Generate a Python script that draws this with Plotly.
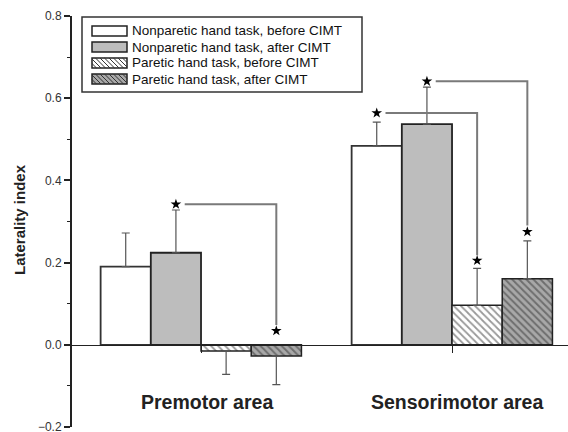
import plotly.graph_objects as go

# ---- data ----
categories = ["Premotor area", "Sensorimotor area"]
cat_pos = [0, 1]
series_names = [
    "Nonparetic hand task, before CIMT",
    "Nonparetic hand task, after CIMT",
    "Paretic hand task, before CIMT",
    "Paretic hand task, after CIMT",
]
nonparetic_before = [0.19, 0.484]
nonparetic_before_err = [0.082, 0.058]
nonparetic_after = [0.224, 0.537]
nonparetic_after_err = [0.104, 0.09]
paretic_before = [-0.015, 0.096]
paretic_before_err = [0.057, 0.09]
paretic_after = [-0.027, 0.161]
paretic_after_err = [0.07, 0.092]

y_ticks = [-0.2, 0.0, 0.2, 0.4, 0.6, 0.8]

# significance brackets: (category, from-bar, to-bar, star y at start, line end y, star y at end)
brackets = [
    (0, 1, 3, 0.342, 0.048, 0.034),
    (1, 0, 2, 0.564, 0.218, 0.205),
    (1, 1, 3, 0.641, 0.29, 0.275),
]

values = [nonparetic_before, nonparetic_after, paretic_before, paretic_after]
errors = [nonparetic_before_err, nonparetic_after_err, paretic_before_err, paretic_after_err]

FONT = "Liberation Sans, Arial, sans-serif"
W, H = 568, 432
ML, MR, MT, MB = 72, 0, 16, 5
PW, PH = W - ML - MR, H - MT - MB

fills = [
    dict(color="white", line=dict(color="#333", width=1.8)),
    dict(color="#bdbdbd", line=dict(color="#222", width=1.8)),
    dict(color="white", line=dict(color="#222", width=1.5),
         pattern=dict(shape="\\", fgcolor="#333", bgcolor="white", size=5, solidity=0.35)),
    dict(color="#a0a0a0", line=dict(color="#222", width=1.5),
         pattern=dict(shape="\\", fgcolor="#333", bgcolor="#a8a8a8", size=5, solidity=0.4)),
]
swatch = [("white", None), ("#bdbdbd", None), ("white", "#333"), ("#a8a8a8", "#333")]

fig = go.Figure()
for name, vals, errs, mk in zip(series_names, values, errors, fills):
    up = [e if v >= 0 else 0 for v, e in zip(vals, errs)]
    down = [e if v < 0 else 0 for v, e in zip(vals, errs)]
    fig.add_trace(go.Bar(
        x=cat_pos, y=vals, name=name, marker=mk, showlegend=False,
        error_y=dict(type="data", symmetric=False, array=up, arrayminus=down,
                     color="#555", thickness=1.2, width=4),
    ))

offsets = [-0.3, -0.1, 0.1, 0.3]
for cat, i0, i1, y0, yend, ys in brackets:
    xa = cat_pos[cat] + offsets[i0]
    xb = cat_pos[cat] + offsets[i1]
    fig.add_trace(go.Scatter(
        x=[xa + 0.035, xb, xb], y=[y0, y0, yend], mode="lines",
        line=dict(color="#7a7a7a", width=2), showlegend=False, hoverinfo="skip"))
    fig.add_trace(go.Scatter(
        x=[xa, xb], y=[y0, ys], mode="markers",
        marker=dict(symbol="star", size=8, color="black"),
        showlegend=False, hoverinfo="skip"))

for c, p, dx in zip(categories, cat_pos, [0.024, 0.018]):
    fig.add_annotation(x=p + dx, y=-0.14, text="<b>" + c + "</b>", showarrow=False,
                       font=dict(family=FONT, size=19.5, color="#222"), xanchor="center", yanchor="middle")

# ---- manual legend (pixel layout -> paper coords) ----
def px(x):
    return (x - ML) / PW

def py(y):
    return (H - MB - y) / PH

fig.add_shape(type="rect", xref="paper", yref="paper",
              x0=px(82), x1=px(362), y0=py(17), y1=py(92),
              line=dict(color="#333", width=1.5), fillcolor="white", layer="above")
sx0, sx1, sh = 92, 127, 10
for k, (name, (bg, hatch)) in enumerate(zip(series_names, swatch)):
    yc = 31 + 16 * k
    top, bot = yc - sh / 2, yc + sh / 2
    fig.add_shape(type="rect", xref="paper", yref="paper",
                  x0=px(sx0), x1=px(sx1), y0=py(top), y1=py(bot),
                  line=dict(color="#222", width=1.5), fillcolor=bg, layer="above")
    if hatch:
        step = 4.5
        segs = []
        c = -sh
        while c < (sx1 - sx0):
            xs, ys_ = c, 0.0
            xe, ye = c + sh, sh
            if xs < 0:
                ys_ = -xs
                xs = 0
            if xe > sx1 - sx0:
                ye = (sx1 - sx0) - c
                xe = sx1 - sx0
            if xe > xs:
                segs.append("M{:.4f},{:.4f}L{:.4f},{:.4f}".format(
                    px(sx0 + xs), py(top + ys_), px(sx0 + xe), py(top + ye)))
            c += step
        fig.add_shape(type="path", xref="paper", yref="paper", path="".join(segs),
                      line=dict(color=hatch, width=1), layer="above")
    fig.add_annotation(xref="paper", yref="paper", x=px(130), y=py(yc), text=name,
                       showarrow=False, xanchor="left", yanchor="middle",
                       font=dict(family=FONT, size=13.5, color="#111"))

# y-axis title
fig.add_annotation(xref="paper", yref="paper", x=px(20), y=py(220), text="<b>Laterality index</b>",
                   textangle=-90, showarrow=False, xanchor="center", yanchor="middle",
                   font=dict(family=FONT, size=15, color="#222"))

fig.update_layout(
    width=W, height=H,
    margin=dict(l=ML, r=MR, t=MT, b=MB),
    paper_bgcolor="white", plot_bgcolor="white",
    barmode="group", bargap=0.2, bargroupgap=0,
    font=dict(family=FONT, color="#222"),
    showlegend=False,
)
fig.update_xaxes(
    range=[-0.514, 1.462], anchor="free", position=0.2, automargin=False,
    showline=True, linecolor="#222", linewidth=1.2,
    tickvals=cat_pos, ticktext=["", ""], ticks="outside", ticklen=7, tickcolor="#222",
    showgrid=False, zeroline=False,
)
fig.update_yaxes(
    range=[-0.2, 0.8], tickvals=y_ticks, tickformat=".1f", automargin=False,
    ticklabeloverflow="allow",
    showline=True, linecolor="#222", linewidth=2,
    ticks="outside", ticklen=6, tickwidth=1.5, tickcolor="#222",
    minor=dict(dtick=0.1, ticks="outside", ticklen=3, tickcolor="#222", tickwidth=1.2),
    tickfont=dict(family=FONT, size=12, color="#333"),
    showgrid=False, zeroline=False,
)

fig.write_html("out.html", config={"displayModeBar": False},
               post_script="document.body.style.margin='0';document.body.style.overflow='hidden';")
